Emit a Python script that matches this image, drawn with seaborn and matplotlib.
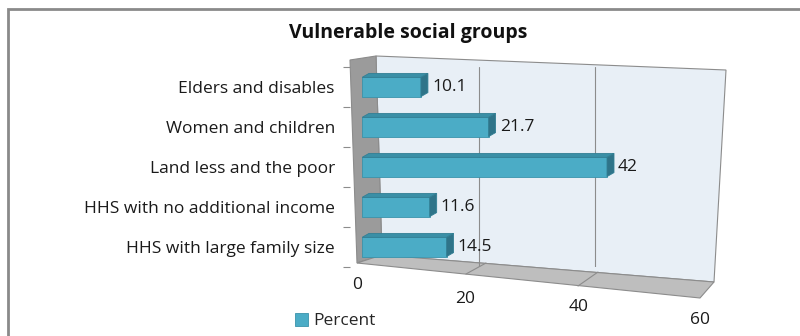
import numpy as np
import pandas as pd
import matplotlib
matplotlib.use("Agg")
import matplotlib.pyplot as plt
import seaborn as sns
from matplotlib.patches import Polygon, Rectangle
from matplotlib import transforms

# ---- data ----
categories = ["Elders and disables", "Women and children", "Land less and the poor",
              "HHS with no additional income", "HHS with large family size"]
values = [10.1, 21.7, 42, 11.6, 14.5]
series_name = "Percent"
x_ticks = [0, 20, 40, 60]
title = "Vulnerable social groups"

sns.set_theme(style="white")
plt.rcParams["font.family"] = ["Open Sans", "DejaVu Sans"]

W, H = 800, 336
AX_L, AX_R, AX_T, AX_B = 362, 712, 67, 267
fig = plt.figure(figsize=(W / 100, H / 100), dpi=100)
ax = fig.add_axes([AX_L / W, 1 - AX_B / H, (AX_R - AX_L) / W, (AX_B - AX_T) / H])

df = pd.DataFrame({"group": categories, "value": values, "series": series_name})
front = "#4BACC6"
sns.barplot(data=df, y="group", x="value", hue="series", palette=[front], saturation=1,
            width=0.48, orient="h", ax=ax, edgecolor="#3A93AB", linewidth=0.6,
            zorder=3, legend=True)

ax.set_xlim(0, 60)
ax.set_ylim(len(categories) - 0.5, -0.5)
ax.set_xticks(x_ticks)
ax.set_xlabel("")
ax.set_ylabel("")
ax.patch.set_visible(False)
for s in ax.spines.values():
    s.set_visible(False)

# ---- 3D extrusion of bars (derived from the bar patches) ----
dx, dy = 7, 4
T = ax.transData
inv = T.inverted()
bars = list(ax.containers[0])
for p in bars:
    x0, y0, w, h = p.get_x(), p.get_y(), p.get_width(), p.get_height()
    tl = T.transform((x0, y0))
    tr = T.transform((x0 + w, y0))
    br = T.transform((x0 + w, y0 + h))
    off = np.array([dx, dy])
    top = inv.transform(np.array([tl, tr, tr + off, tl + off]))
    side = inv.transform(np.array([tr, br, br + off, tr + off]))
    ax.add_patch(Polygon(top, closed=True, facecolor="#3A8FA6", edgecolor="#327F94",
                         linewidth=0.6, zorder=3))
    ax.add_patch(Polygon(side, closed=True, facecolor="#2F7489", edgecolor="#327F94",
                         linewidth=0.6, zorder=3))

ax.bar_label(ax.containers[0], labels=[f"{v:g}" for v in values], padding=dx + 1,
             fontsize=12.5, color="#1a1a1a")

# ---- walls / floor (decoration in axes coordinates) ----
def px(xp, yp):
    return ((xp - AX_L) / (AX_R - AX_L), (AX_B - yp) / (AX_B - AX_T))

edge = "#8C8C8C"
back = [px(376, 56), px(726, 70), px(714, 282), px(382, 255)]
side_w = [px(350, 60), px(376, 56), px(382, 255), px(357, 263)]
floor = [px(357, 263), px(382, 255), px(714, 282), px(700, 298)]
ax.add_patch(Polygon(back, closed=True, transform=ax.transAxes, clip_on=False,
                     facecolor="#E8EFF6", edgecolor=edge, linewidth=0.8, zorder=0.1))
ax.add_patch(Polygon(side_w, closed=True, transform=ax.transAxes, clip_on=False,
                     facecolor="#9B9B9B", edgecolor=edge, linewidth=0.8, zorder=0.2))
ax.add_patch(Polygon(floor, closed=True, transform=ax.transAxes, clip_on=False,
                     facecolor="#BEBEBE", edgecolor=edge, linewidth=0.8, zorder=0.2))
# floor grid lines
for a, b in [((486, 263), (466, 274)), ((598, 272), (578, 286))]:
    pa, pb = px(*a), px(*b)
    ax.plot([pa[0], pb[0]], [pa[1], pb[1]], transform=ax.transAxes, clip_on=False,
            color=edge, linewidth=0.8, zorder=0.3)

# grid
ax.grid(axis="x", color=edge, linewidth=0.8)
ax.grid(axis="y", visible=False)
gl = ax.xaxis.get_gridlines()
gl[0].set_visible(False)
gl[-1].set_visible(False)

# y ticks: category boundaries as minor ticks on the side-wall edge
ax.spines["left"].set_position(("outward", 8.6))
ax.set_yticks(np.arange(len(categories) + 1) - 0.5, minor=True)
ax.tick_params(axis="y", which="minor", length=5, width=0.8, color=edge, left=True)
ax.tick_params(axis="y", which="major", length=0, pad=11, labelsize=12.5, labelcolor="#1a1a1a")

# x ticks staggered (perspective)
ax.tick_params(axis="x", length=0, pad=0, labelsize=12.5, labelcolor="#1a1a1a")
offsets = [(-5, -10), (-14, -24), (-17, -32), (-12, -45)]
for lab, (ox, oy) in zip(ax.get_xticklabels(), offsets):
    lab.set_transform(lab.get_transform() +
                      transforms.ScaledTranslation(ox / 100, oy / 100, fig.dpi_scale_trans))

# legend
sns.move_legend(ax, loc="center", bbox_to_anchor=px(335, 321), frameon=False, title=None,
                fontsize=12.5, handlelength=0.75, handleheight=0.75, handletextpad=0.3)

# title
fig.text(408 / W, 1 - 33 / H, title, ha="center", va="center", fontsize=14,
         fontweight="bold", color="#111111")

# outer chart frame
fig.add_artist(Rectangle((8 / W, -0.2), 1.3, (1 - 9 / H) + 0.2, transform=fig.transFigure,
                         fill=False, edgecolor="#8A8A8A", linewidth=2, zorder=10))

fig.savefig("out.png", dpi=100)
